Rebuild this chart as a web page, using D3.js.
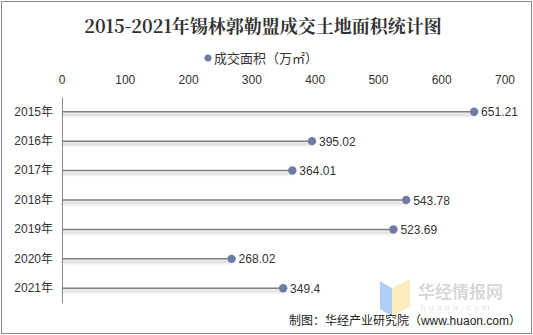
<!DOCTYPE html>
<html>
<head>
<meta charset="utf-8">
<script src="https://cdn.jsdelivr.net/npm/d3@7"></script>
<style>
  body { margin: 0; background: #fff; }
  text { font-family: "Liberation Sans", Arial, "Noto Sans CJK SC", sans-serif; }
</style>
</head>
<body>
<div id="chart-area"></div>
<script>
// Data
var years = ["2015年", "2016年", "2017年", "2018年", "2019年", "2020年", "2021年"];
var areas = [651.21, 395.02, 364.01, 543.78, 523.69, 268.02, 349.4];
var areaLabels = ["651.21", "395.02", "364.01", "543.78", "523.69", "268.02", "349.4"];
var xTicks = [0, 100, 200, 300, 400, 500, 600, 700];

var W = 533, H = 335;
var margin = { left: 62, right: 28, top: 97, bottom: 32 };

var svg = d3.select("#chart-area").append("svg")
    .attr("width", W)
    .attr("height", H);

// Shadow filter (user space so that flat lines keep a region)
var defs = svg.append("defs");
var shadow = defs.append("filter").attr("id", "shadow")
    .attr("filterUnits", "userSpaceOnUse")
    .attr("x", 0).attr("y", 0).attr("width", W).attr("height", H);
shadow.append("feGaussianBlur").attr("in", "SourceAlpha").attr("stdDeviation", 1.6).attr("result", "b");
shadow.append("feOffset").attr("in", "b").attr("dy", 3).attr("result", "o");
shadow.append("feComponentTransfer").attr("in", "o").attr("result", "s")
    .append("feFuncA").attr("type", "linear").attr("slope", 0.3);
var merge = shadow.append("feMerge");
merge.append("feMergeNode").attr("in", "s");
merge.append("feMergeNode").attr("in", "SourceGraphic");

// Outer frame
svg.append("rect")
    .attr("x", 1.5).attr("y", 1.5)
    .attr("width", W - 3).attr("height", H - 3)
    .attr("fill", "none")
    .attr("stroke", "#8c8c8c");

// Title
svg.append("text")
    .attr("x", 263).attr("y", 33)
    .attr("text-anchor", "middle")
    .attr("font-size", 18)
    .attr("font-weight", "bold")
    .style("font-family", "'Noto Serif CJK SC', 'DejaVu Serif', serif")
    .attr("fill", "#333")
    .text("2015-2021年锡林郭勒盟成交土地面积统计图");

// Legend
svg.append("circle")
    .attr("cx", 208).attr("cy", 58).attr("r", 3.5)
    .attr("fill", "#6e7ca5");
svg.append("text")
    .attr("x", 214).attr("y", 63)
    .attr("font-size", 13)
    .attr("fill", "#333")
    .text("成交面积（万㎡）");

// Scales
var x = d3.scaleLinear().domain([0, 700]).range([margin.left, 505]);
var y = d3.scaleBand().domain(years).range([margin.top, H - margin.bottom]);

// Top axis labels
svg.append("g").selectAll("text")
    .data(xTicks)
    .enter().append("text")
    .attr("x", function (d) { return x(d); })
    .attr("y", 84)
    .attr("text-anchor", "middle")
    .attr("font-size", 12)
    .attr("fill", "#333")
    .text(function (d) { return d; });

// Y axis
var yAxis = svg.append("g")
    .attr("transform", "translate(" + margin.left + ",0)")
    .call(d3.axisLeft(y).tickSize(0).tickPadding(9));
yAxis.select(".domain").attr("stroke", "#8c8c8c");
yAxis.selectAll("text")
    .attr("font-size", 12)
    .attr("fill", "#333")
    .style("font-family", "'Liberation Sans', 'Noto Sans CJK SC', sans-serif");

// Lollipop lines
var g = svg.append("g");
g.selectAll(".stem")
    .data(areas)
    .enter().append("line")
    .attr("class", "stem")
    .attr("x1", x(0))
    .attr("x2", function (d) { return x(d); })
    .attr("y1", function (d, i) { return y(years[i]) + y.bandwidth() / 2; })
    .attr("y2", function (d, i) { return y(years[i]) + y.bandwidth() / 2; })
    .attr("stroke", "#7f7f7f")
    .attr("stroke-width", 1.5)
    .attr("filter", "url(#shadow)");

g.selectAll(".dot")
    .data(areas)
    .enter().append("circle")
    .attr("class", "dot")
    .attr("cx", function (d) { return x(d); })
    .attr("cy", function (d, i) { return y(years[i]) + y.bandwidth() / 2; })
    .attr("r", 4.2)
    .attr("fill", "#6e7ca5");

g.selectAll(".lbl")
    .data(areas)
    .enter().append("text")
    .attr("class", "lbl")
    .attr("x", function (d) { return x(d) + 7; })
    .attr("y", function (d, i) { return y(years[i]) + y.bandwidth() / 2 + 4.5; })
    .attr("font-size", 12)
    .attr("fill", "#333")
    .text(function (d, i) { return areaLabels[i]; });

// Watermark
var wm = svg.append("g").attr("opacity", 0.55);
wm.append("path").attr("d", "M380,281 L392,288 L392,316 L380,309 Z").attr("fill", "#6fa8f0");
wm.append("path").attr("d", "M392,288 L410,279 L410,307 L392,316 Z").attr("fill", "#f6dd8a");
wm.append("text")
    .attr("x", 418).attr("y", 298)
    .attr("font-size", 17).attr("font-weight", "bold")
    .attr("fill", "#b9b9b9")
    .text("华经情报网");
wm.append("text")
    .attr("x", 421).attr("y", 311)
    .attr("font-size", 9)
    .attr("letter-spacing", 3)
    .attr("fill", "#c8c8c8")
    .text("huaon.com");

// Source note
svg.append("text")
    .attr("x", 521).attr("y", 325)
    .attr("text-anchor", "end")
    .attr("font-size", 12)
    .attr("fill", "#222")
    .text("制图：华经产业研究院（www.huaon.com）");
</script>
</body>
</html>
